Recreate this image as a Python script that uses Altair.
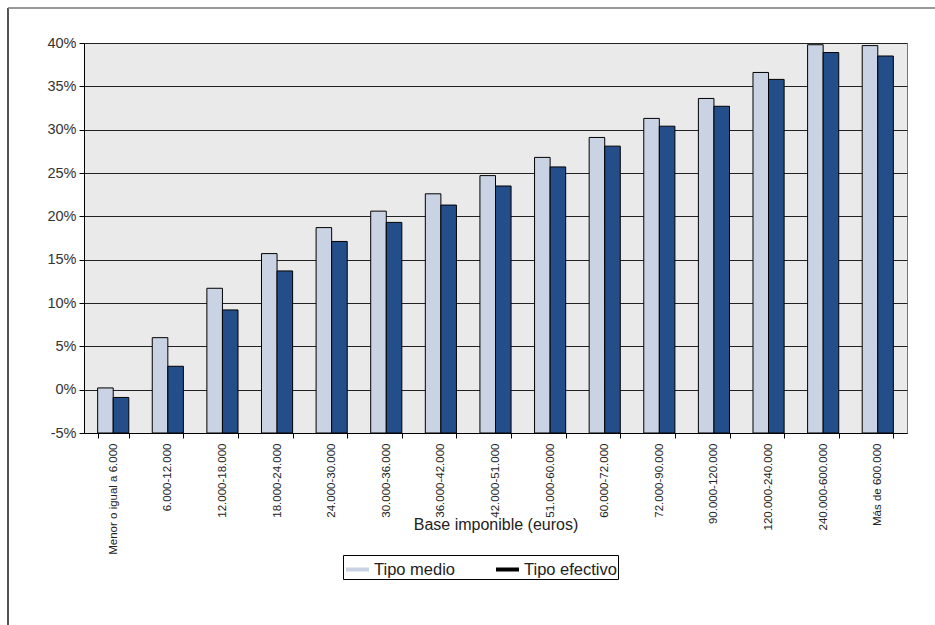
import altair as alt
import pandas as pd

categorias = ["Menor o igual a 6.000", "6.000-12.000", "12.000-18.000", "18.000-24.000",
              "24.000-30.000", "30.000-36.000", "36.000-42.000", "42.000-51.000",
              "51.000-60.000", "60.000-72.000", "72.000-90.000", "90.000-120.000",
              "120.000-240.000", "240.000-600.000", "Más de 600.000"]
tipo_medio = [0.2, 6.0, 11.7, 15.7, 18.7, 20.6, 22.6, 24.7, 26.8, 29.1, 31.3, 33.6, 36.6, 39.8, 39.7]
tipo_efectivo = [-0.9, 2.7, 9.2, 13.7, 17.1, 19.3, 21.3, 23.5, 25.7, 28.1, 30.4, 32.7, 35.8, 38.9, 38.5]
series = ["Tipo medio", "Tipo efectivo"]
y_ticks = [-5, 0, 5, 10, 15, 20, 25, 30, 35, 40]

rows = []
for c, m, e in zip(categorias, tipo_medio, tipo_efectivo):
    rows.append({"cat": c, "serie": series[0], "leyenda": series[0], "valor": m})
    rows.append({"cat": c, "serie": series[1], "leyenda": series[1], "valor": e})
df = pd.DataFrame(rows)

FONT = "Liberation Sans"

x_enc = alt.X("cat:N", sort=categorias,
              scale=alt.Scale(paddingInner=0.43, paddingOuter=0.25),
              axis=alt.Axis(title="Base imponible (euros)", labelAngle=-90, labelFontSize=11.5,
                            labelColor="#222", labelPadding=5, tickBand="extent",
                            tickColor="#000", tickSize=5, domainColor="#000",
                            titleFontSize=16, titleFontWeight="normal", titleColor="#222",
                            titleBaseline="middle", titleY=91, grid=False))
y_scale = alt.Scale(domain=[-5, 40], nice=False, zero=False)
y_enc = alt.Y("valor:Q", scale=y_scale,
              axis=alt.Axis(title=None, values=y_ticks, labelExpr="datum.value + '%'",
                            labelFontSize=14.5, labelColor="#333", labelPadding=3,
                            tickColor="#000", tickSize=5, domainColor="#000",
                            grid=True, gridColor="#222", gridWidth=1))

bars = alt.Chart(df).mark_bar(stroke="#000", strokeWidth=1).encode(
    x=x_enc,
    xOffset=alt.XOffset("serie:N", sort=series, scale=alt.Scale(paddingInner=0, paddingOuter=0)),
    y=y_enc,
    y2=alt.datum(-5),
    fill=alt.Fill("serie:N", sort=series,
                  scale=alt.Scale(domain=series, range=["#C9D3E3", "#234E8A"]), legend=None),
)

legend_layer = alt.Chart(df).mark_rule(strokeWidth=4, strokeCap="butt").encode(
    x=alt.X("cat:N", sort=categorias),
    y=alt.Y("valor:Q", scale=y_scale),
    y2="valor:Q",
    stroke=alt.Stroke("leyenda:N", sort=series,
                      scale=alt.Scale(domain=series, range=["#C9D3E3", "#000000"]),
                      legend=alt.Legend(title=None, orient="none", direction="horizontal",
                                        legendX=259, legendY=512, symbolType="stroke",
                                        symbolSize=529, symbolStrokeWidth=4,
                                        labelFontSize=16.5, labelColor="#222", labelFont=FONT,
                                        strokeColor="#000", fillColor="#fff", padding=1,
                                        columnPadding=32, labelOffset=3)),
)

frame = alt.Chart(pd.DataFrame({"k": [0]})).mark_rule(color="#555", strokeWidth=2).encode(
    x=alt.value(-76), y=alt.value(-35), y2=alt.value(582))
frame_top = alt.Chart(pd.DataFrame({"k": [0]})).mark_rule(color="#777", strokeWidth=1.5).encode(
    x=alt.value(-76), x2=alt.value(851), y=alt.value(-35))

chart = alt.layer(bars, legend_layer, frame, frame_top).resolve_scale(
    fill="independent", stroke="independent"
).resolve_legend(
    fill="independent", stroke="independent"
).properties(
    width=823, height=390,
    autosize=alt.AutoSizeParams(type="none"),
    padding={"left": 84, "top": 43, "right": 28, "bottom": 192},
    background="white",
).configure_view(
    fill="#EAEAEA", stroke="#777", strokeWidth=1
).configure_axis(
    labelFont=FONT, titleFont=FONT
).configure_legend(
    labelFont=FONT
)

chart.save("out.html", embed_options={"renderer": "svg", "actions": False})
